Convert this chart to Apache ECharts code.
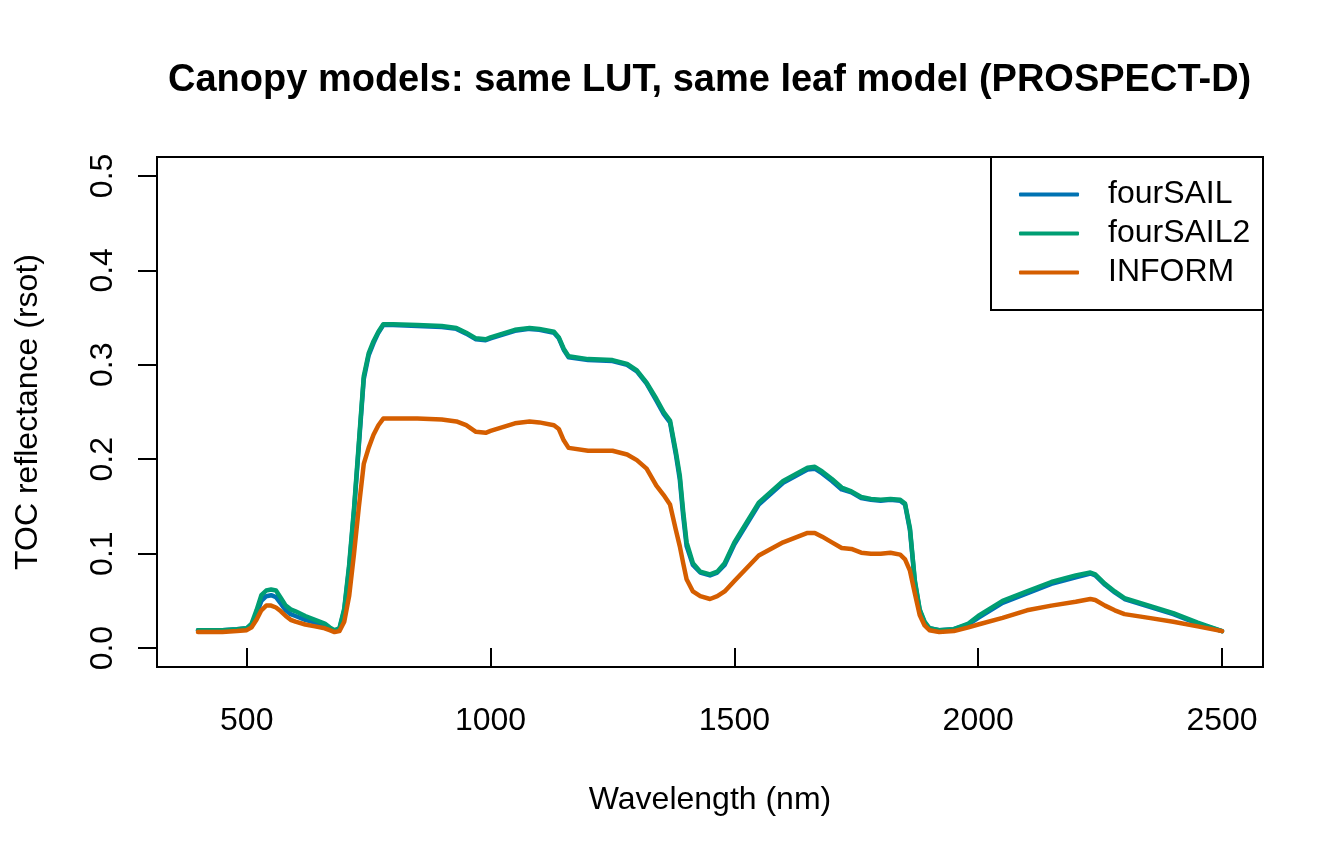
<!DOCTYPE html>
<html>
<head>
<meta charset="utf-8">
<script src="https://cdn.jsdelivr.net/npm/echarts@6/dist/echarts.min.js"></script>
<style>html,body{margin:0;padding:0;background:#fff}#c{width:1344px;height:864px}</style>
</head>
<body>
<div id="c"></div>
<script>
const wavelength = [400,450,480,500,510,520,530,540,550,560,570,580,590,600,620,640,660,670,680,690,700,710,720,730,740,750,760,770,780,800,850,900,930,950,970,990,1000,1050,1080,1100,1130,1140,1150,1160,1200,1250,1280,1300,1320,1340,1355,1368,1380,1388,1395,1402,1415,1430,1450,1465,1480,1500,1550,1600,1650,1665,1680,1700,1720,1740,1760,1780,1800,1820,1840,1850,1860,1870,1880,1890,1900,1920,1950,1980,2000,2050,2100,2150,2200,2230,2240,2260,2280,2300,2350,2400,2450,2500];

const fourSAIL = [.019,.019,.020,.021,.025,.036,.050,.055,.056,.054,.047,.040,.036,.034,.030,.027,.023,.020,.018,.020,.040,.085,.145,.215,.285,.310,.323,.334,.342,.342,.341,.340,.338,.333,.327,.326,.328,.336,.338,.337,.334,.328,.316,.308,.305,.304,.300,.293,.280,.262,.248,.239,.205,.179,.140,.108,.088,.080,.077,.080,.088,.110,.152,.175,.189,.190,.185,.177,.168,.165,.159,.157,.156,.157,.156,.152,.125,.070,.040,.027,.021,.019,.020,.025,.032,.048,.058,.068,.075,.079,.077,.067,.059,.052,.044,.036,.026,.018];

const fourSAIL2 = [.019,.019,.020,.021,.026,.040,.056,.061,.062,.061,.053,.045,.041,.039,.034,.030,.026,.022,.019,.021,.042,.088,.148,.218,.288,.312,.325,.335,.343,.343,.342,.341,.339,.334,.328,.327,.329,.337,.339,.338,.335,.329,.317,.309,.306,.305,.301,.294,.281,.264,.250,.241,.208,.183,.145,.112,.090,.081,.078,.081,.090,.112,.154,.177,.191,.192,.187,.179,.170,.166,.160,.158,.157,.158,.157,.153,.127,.072,.041,.028,.021,.019,.020,.026,.034,.050,.060,.070,.077,.080,.078,.068,.060,.053,.045,.037,.027,.018];

const INFORM = [.017,.017,.018,.019,.022,.030,.040,.045,.045,.043,.039,.034,.030,.028,.025,.023,.021,.019,.017,.018,.028,.055,.100,.150,.195,.212,.226,.236,.243,.243,.243,.242,.240,.236,.229,.228,.230,.238,.240,.239,.236,.232,.220,.212,.209,.209,.205,.199,.190,.172,.162,.152,.125,.108,.090,.073,.060,.055,.052,.055,.060,.071,.098,.112,.122,.122,.118,.112,.106,.105,.101,.100,.100,.101,.099,.094,.082,.058,.035,.024,.019,.017,.018,.022,.025,.032,.040,.045,.049,.052,.051,.045,.040,.036,.032,.028,.023,.018];

const xTicks = [500,1000,1500,2000,2500];
const yTicks = [0,0.1,0.2,0.3,0.4,0.5];
const names = ['fourSAIL','fourSAIL2','INFORM'];
const colors = ['#0072B2','#009E73','#D55E00'];

const FONT = "'Liberation Sans', Arial, sans-serif";
const pairs = arr => wavelength.map((w,i)=>[w,arr[i]]);
const seriesData = [fourSAIL, fourSAIL2, INFORM];

const chart = echarts.init(document.getElementById('c'), null, {renderer:'canvas'});
chart.setOption({
  animation:false,
  backgroundColor:'#fff',
  title:{
    text:'Canopy models: same LUT, same leaf model (PROSPECT-D)',
    left:163, top:57,
    textStyle:{fontFamily:FONT,fontSize:38,fontWeight:'bold',color:'#000'}
  },
  grid:{left:157,right:81,top:157,bottom:197,show:true,borderColor:'#000',borderWidth:2,backgroundColor:'transparent'},
  xAxis:{
    type:'value',min:316,max:2584,
    name:'Wavelength (nm)',nameLocation:'middle',nameGap:117,
    nameTextStyle:{fontFamily:FONT,fontSize:32,color:'#000'},
    axisLine:{show:false},
    splitLine:{show:false},
    axisTick:{show:true,length:19,customValues:xTicks,lineStyle:{color:'#000',width:2}},
    axisLabel:{customValues:xTicks,margin:38,fontFamily:FONT,fontSize:32,color:'#000',formatter:v=>String(v)}
  },
  yAxis:{
    type:'value',min:-0.02,max:0.52,
    name:'TOC reflectance (rsot)',nameLocation:'middle',nameGap:113,
    nameTextStyle:{fontFamily:FONT,fontSize:32,color:'#000'},
    axisLine:{show:false},
    splitLine:{show:false},
    axisTick:{show:true,length:19,customValues:yTicks,lineStyle:{color:'#000',width:2}},
    axisLabel:{customValues:yTicks,rotate:90,margin:38,fontFamily:FONT,fontSize:32,color:'#000',
      formatter:v=>v.toFixed(1)}
  },
  legend:{
    left:1019, top:175, orient:'vertical', itemGap:0, padding:0,
    itemWidth:60, itemHeight:4, icon:'roundRect',
    data:names,
    formatter:n=>'{a|'+n+'}',
    textStyle:{fontFamily:FONT,fontSize:32,color:'#000',lineHeight:39,
      rich:{a:{fontFamily:FONT,fontSize:32,color:'#000',lineHeight:39,padding:[0,0,0,24]}}}
  },
  graphic:[{type:'rect',shape:{x:991,y:157,width:272,height:153},style:{fill:'none',stroke:'#000',lineWidth:2},z:10}],
  series:names.map((n,i)=>({
    name:n,type:'line',symbol:'none',smooth:false,
    data:pairs(seriesData[i]),
    lineStyle:{color:colors[i],width:4.5,cap:'round',join:'round'},
    itemStyle:{color:colors[i]},
    z:2+i
  }))
});
</script>
</body>
</html>
